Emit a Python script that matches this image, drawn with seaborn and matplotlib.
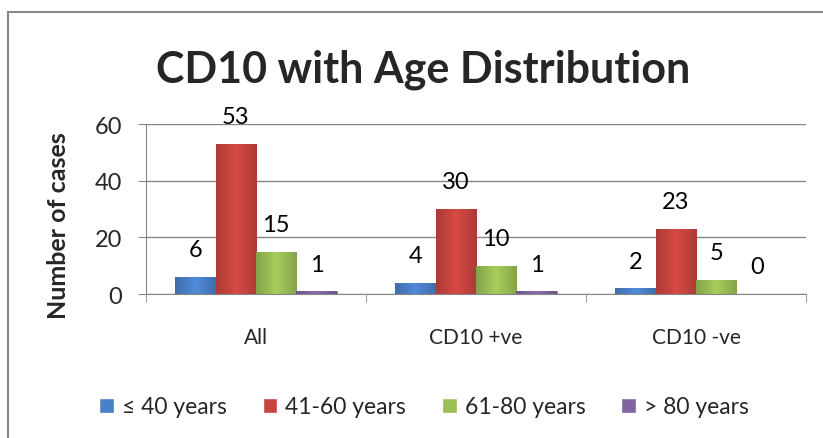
import numpy as np
import pandas as pd
import matplotlib.pyplot as plt
import seaborn as sns
from matplotlib.colors import to_rgb
from matplotlib.patches import Rectangle

groups = ["All", "CD10 +ve", "CD10 -ve"]
age_bands = ["≤ 40 years", "41-60 years", "61-80 years", "> 80 years"]
le40 = [6, 4, 2]
a41_60 = [53, 30, 23]
a61_80 = [15, 10, 5]
gt80 = [1, 1, 0]
colors = ["#4A80C8", "#C8443F", "#9BBE55", "#8064A2"]

rows = []
for band, vals in zip(age_bands, [le40, a41_60, a61_80, gt80]):
    for g, v in zip(groups, vals):
        rows.append({"Group": g, "Age": band, "Cases": v})
df = pd.DataFrame(rows)

sns.set_style("white")
plt.rcParams["font.family"] = ["Lato", "DejaVu Sans"]

fig = plt.figure(figsize=(8.23, 4.39), dpi=100)
ax = fig.add_axes([146 / 823, 1 - 295 / 439, 660 / 823, 170 / 439])

sns.barplot(data=df, x="Group", y="Cases", hue="Age", hue_order=age_bands,
            palette=colors, width=0.735, saturation=1, ax=ax, legend=True)

# soft shading across each bar, a bit like the bevelled Excel bars
xs = np.linspace(0, 1, 60)
shade = 1.08 - 0.22 * np.abs(xs - 0.5) * 2
for cont, col in zip(ax.containers, colors):
    base = np.array(to_rgb(col))
    for bar in cont:
        bar.set_edgecolor("#00000040")
        bar.set_linewidth(0.6)
        h = bar.get_height()
        if h <= 0:
            continue
        x0, w = bar.get_x(), bar.get_width()
        img = np.clip(base[None, None, :] * shade[None, :, None], 0, 1)
        im = ax.imshow(img, extent=[x0, x0 + w, 0, h], aspect="auto",
                       interpolation="bilinear", zorder=bar.get_zorder() + 0.1)
        im.set_clip_path(bar)
    ax.bar_label(cont, fmt="%d", padding=12, fontsize=17, color="black")

ax.set_ylim(0, 60)
ax.set_yticks([0, 20, 40, 60])
ax.set_xlim(-0.5, 2.5)
ax.yaxis.grid(True, color="#868686", lw=1)
ax.set_axisbelow(True)
for s in ["top", "right"]:
    ax.spines[s].set_visible(False)
ax.spines["left"].set_color("#868686")
ax.spines["bottom"].set_color("#868686")
ax.tick_params(axis="y", left=True, length=6, color="#868686", labelsize=17, pad=11)
ax.tick_params(axis="x", which="major", length=0, labelsize=15, pad=24)
ax.set_xticks([-0.5, 0.5, 1.5, 2.5], minor=True)
ax.tick_params(axis="x", which="minor", bottom=True, length=6, color="#868686")
ax.set_xlabel("")
ax.set_ylabel("")

fig.text(59 / 823, 1 - 226 / 439, "Number of cases", rotation=90, ha="center",
         va="center", fontsize=18, fontweight="bold")
fig.text(423 / 823, 1 - 70 / 439, "CD10 with Age Distribution", ha="center",
         va="center", fontsize=31, fontweight="bold")

handles, labels = ax.get_legend_handles_labels()
ax.get_legend().remove()
fig.legend(handles, labels, loc="center", bbox_to_anchor=(424 / 823, 1 - 408 / 439),
           ncol=4, frameon=False, fontsize=16.5, handlelength=0.65, handleheight=0.65,
           handletextpad=0.35, columnspacing=1.55)

fig.patches.append(Rectangle((8 / 823, -0.05), 1.2, 1 - 13 / 439 + 0.05,
                             transform=fig.transFigure, fill=False,
                             edgecolor="#888888", lw=1.5))

fig.savefig("out.png", dpi=100)
